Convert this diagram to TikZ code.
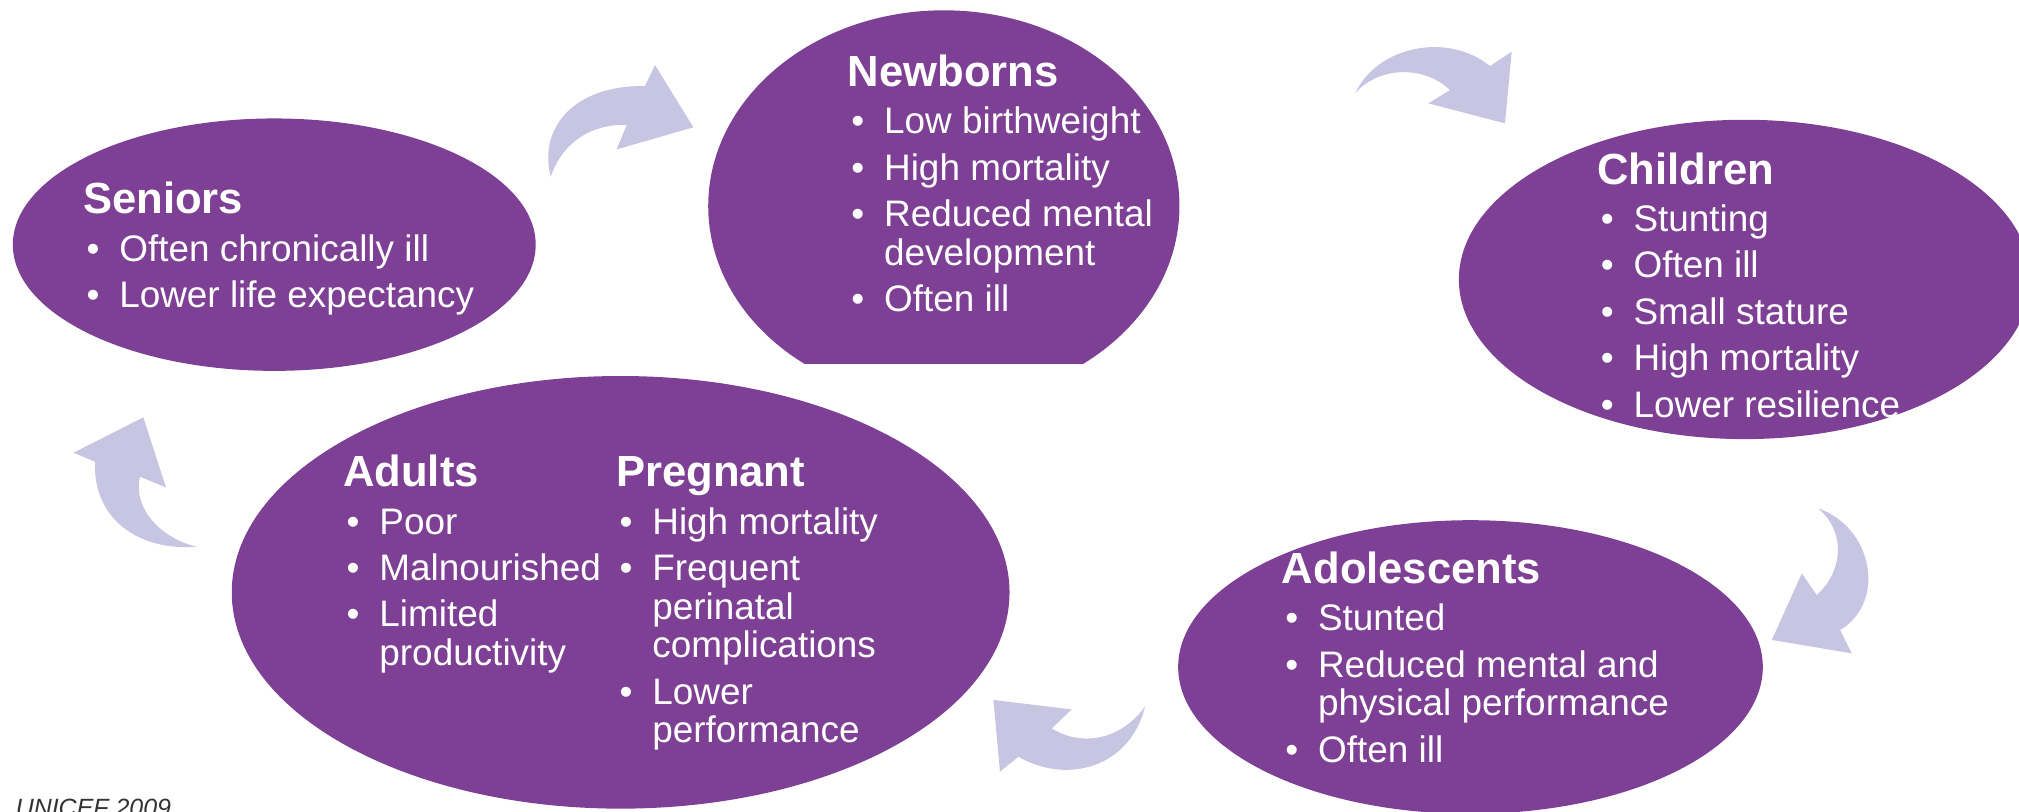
\documentclass[tikz,border=0pt]{standalone}
\usepackage{fontspec}
\setmainfont{Liberation Sans}
\usetikzlibrary{shapes.geometric}
\definecolor{blob}{HTML}{7E4094}
\definecolor{arr}{HTML}{C7C5E2}
\newcommand{\hd}[1]{{\fontsize{12.4}{13}\bfseries\selectfont #1}}
\newcommand{\itm}{\makebox[10.3pt][l]{\hspace{1pt}\textbullet}}
\newcommand{\cnt}{\hspace{10.3pt}}
\begin{document}
\begin{tikzpicture}[x=0.12876mm, y=-0.12876mm,
  stage/.style={ellipse, fill=blob, draw=none, inner sep=0pt},
  arrowshape/.style={fill=arr, draw=none},
  lbl/.style={text=white, inner sep=0pt, anchor=base west, font=\fontsize{10.5}{11}\selectfont, align=left}]
\useasboundingbox (0,0) rectangle (1568,630);

% stages
\node[stage, minimum width=52.28mm, minimum height=25.24mm] (seniors) at (213,190) {};
\begin{scope}
  \clip (500,-10) rectangle (980,282);
  \node[stage, minimum width=47.12mm, minimum height=39.14mm] (newborns) at (733,160) {};
\end{scope}
\node[stage, minimum width=57.17mm, minimum height=31.93mm] (children) at (1355,217) {};
\node[stage, minimum width=58.46mm, minimum height=29.36mm] (adolescents) at (1142,518) {};
\node[stage, minimum width=77.77mm, minimum height=43.26mm] (adults) at (482,460) {};

% arrows
\fill[arrowshape] (427.7,137.2) .. controls (418,100) and (445,66) .. (500.9,66.8)
  -- (508.7,50.5) -- (538.5,98.9) -- (478.9,116.0) -- (486.7,97.1)
  .. controls (460,96) and (437,110) .. (427.7,137.2) -- cycle;
\fill[arrowshape] (1052.4,72.5) .. controls (1070,35) and (1125,25) .. (1157.2,51.3)
  -- (1174.0,40.1) -- (1168.8,95.8) -- (1109.3,80.3) -- (1126.1,69.9)
  .. controls (1105,50) and (1070,52) .. (1052.4,72.5) -- cycle;
\fill[arrowshape] (1412.2,394.8) .. controls (1455,410) and (1465,468) .. (1429.0,489.3)
  -- (1438.1,507.4) -- (1376.0,497.0) -- (1399.3,445.3) -- (1410.9,462.1)
  .. controls (1430,445) and (1435,415) .. (1412.2,394.8) -- cycle;
\fill[arrowshape] (889.2,548.8) .. controls (878,595) and (830,610) .. (790.9,587.7)
  -- (776.6,599.3) -- (771.5,543.6) -- (832.3,550.9) -- (816.8,565.7)
  .. controls (840,580) and (870,575) .. (889.2,548.8) -- cycle;
\fill[arrowshape] (152.7,424.6) .. controls (110,428) and (72,405) .. (73.8,358.6)
  -- (57.0,351.6) -- (111.3,324.1) -- (128.9,378.5) -- (108.7,370.2)
  .. controls (103,395) and (125,418) .. (152.7,424.6) -- cycle;

% texts
\node[lbl] (seniorsT) at (64,166) {\begin{tabular}[t]{@{}l@{}}\hd{Seniors}\\[2.5pt]
  \itm Often chronically ill\\[2.2pt]
  \itm Lower life expectancy\end{tabular}};
\node[lbl] (newbornsT) at (658,67) {\begin{tabular}[t]{@{}l@{}}\hd{Newborns}\\[2.5pt]
  \itm Low birthweight\\[2.2pt]
  \itm High mortality\\[2.2pt]
  \itm Reduced mental\\
  \cnt development\\[2.2pt]
  \itm Often ill\end{tabular}};
\node[lbl] (childrenT) at (1240,143) {\begin{tabular}[t]{@{}l@{}}\hd{Children}\\[2.5pt]
  \itm Stunting\\[2.2pt]
  \itm Often ill\\[2.2pt]
  \itm Small stature\\[2.2pt]
  \itm High mortality\\[2.2pt]
  \itm Lower resilience\end{tabular}};
\node[lbl] (adolescentsT) at (995,453) {\begin{tabular}[t]{@{}l@{}}\hd{Adolescents}\\[2.5pt]
  \itm Stunted\\[2.2pt]
  \itm Reduced mental and\\
  \cnt physical performance\\[2.2pt]
  \itm Often ill\end{tabular}};
\node[lbl] (adultsT) at (266,378) {\begin{tabular}[t]{@{}l@{}}\hd{Adults}\\[2.5pt]
  \itm Poor\\[2.2pt]
  \itm Malnourished\\[2.2pt]
  \itm Limited\\
  \cnt productivity\end{tabular}};
\node[lbl] (pregnantT) at (478,378) {\begin{tabular}[t]{@{}l@{}}\hd{Pregnant}\\[2.5pt]
  \itm High mortality\\[2.2pt]
  \itm Frequent\\
  \cnt perinatal\\
  \cnt complications\\[2.2pt]
  \itm Lower\\
  \cnt performance\end{tabular}};

\node[anchor=base west, inner sep=0pt, text=black!80, font=\itshape\fontsize{7.1}{8}\selectfont] (source) at (11.7,634) {UNICEF 2009};
\end{tikzpicture}
\end{document}
